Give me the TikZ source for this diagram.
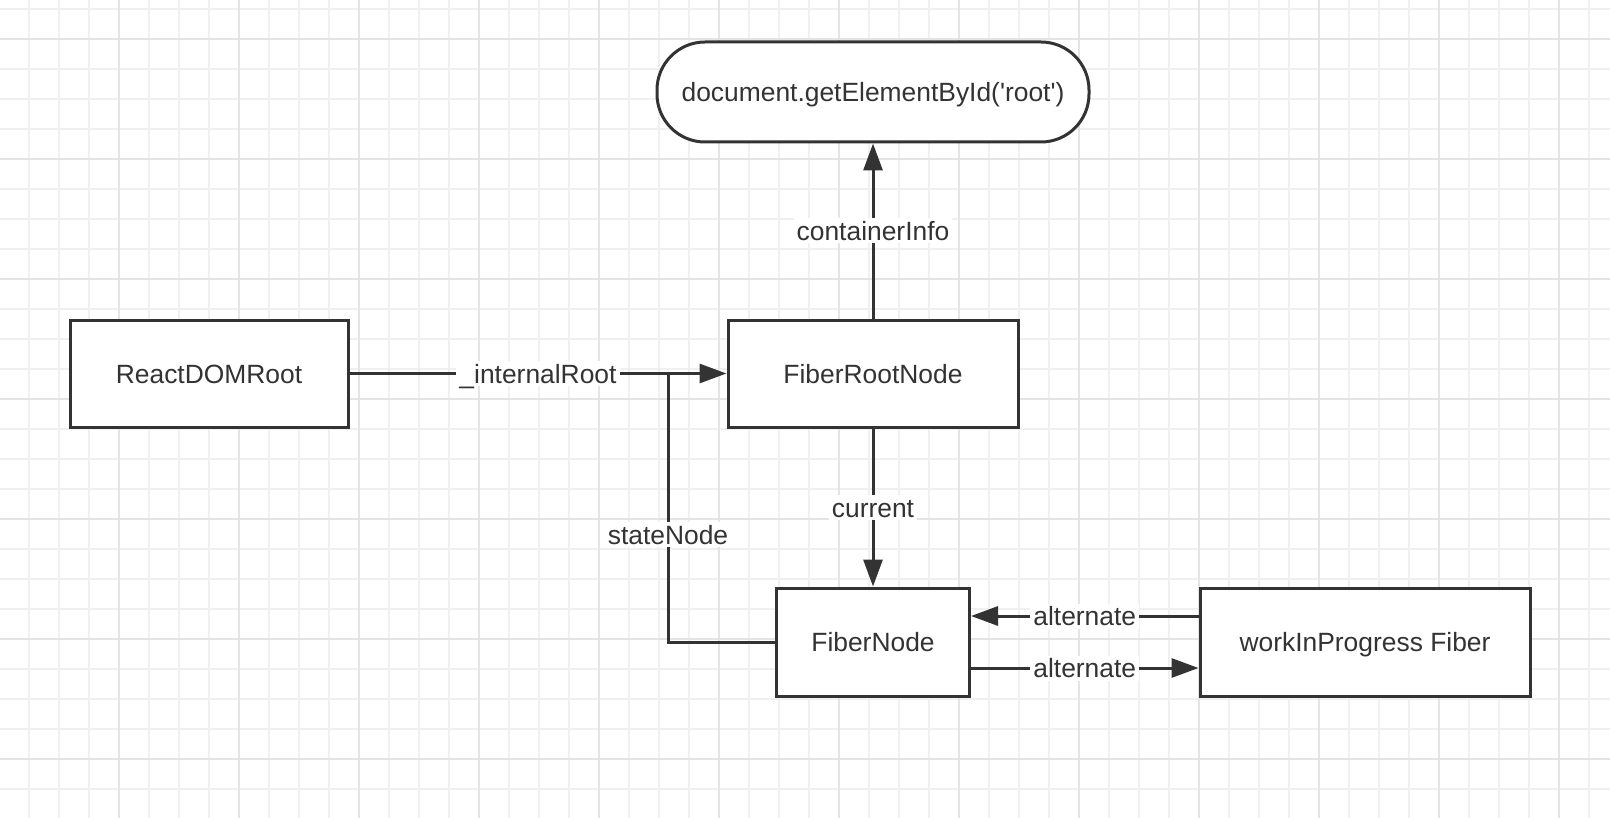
\documentclass[tikz,border=0pt]{standalone}
\usepackage{fontspec}
\setmainfont{Liberation Sans}
\usetikzlibrary{arrows.meta,calc,positioning}
\definecolor{ink}{HTML}{333333}
\definecolor{gridminor}{HTML}{F0F0F0}
\definecolor{gridmajor}{HTML}{E4E4E4}

\begin{document}
\begin{tikzpicture}[x=0.5pt,y=-0.5pt]
	\tikzstyle{every node}=[font=\fontsize{13.2}{16}\selectfont, text=ink, text height=9.5pt, text depth=0pt]
	\tikzstyle{box}=[draw=ink, line width=1.5pt, fill=white, inner sep=0pt]
	\tikzstyle{link}=[draw=ink, line width=1.5pt, -{Triangle[length=13.5pt,width=9.5pt]}]
	\tikzstyle{lbl}=[fill=white, inner sep=1.5pt]
	\useasboundingbox (0,0) rectangle (1610,818);
	\fill[white] (0,0) rectangle (1610,818);
	% grid paper
	\foreach \gx in {29,59,...,1610} \draw[gridminor, line width=1pt] (\gx,0) -- (\gx,818);
	\foreach \gy in {9,39,...,818} \draw[gridminor, line width=1pt] (0,\gy) -- (1610,\gy);
	\foreach \gx in {119,239,...,1610} \draw[gridmajor, line width=1pt] (\gx,0) -- (\gx,818);
	\foreach \gy in {39,159,...,818} \draw[gridmajor, line width=1pt] (0,\gy) -- (1610,\gy);
	% boxes
	\node[box, rounded corners=24pt, minimum width=216pt, minimum height=50pt] (docroot) at (873,92) {document.getElementById(\textquotesingle root\textquotesingle)};
	\node[box, minimum width=139pt, minimum height=53.5pt] (reactroot) at (209,373.5) {ReactDOMRoot};
	\node[box, minimum width=145pt, minimum height=53.5pt] (fiberroot) at (873,373.5) {FiberRootNode};
	\node[box, minimum width=96.5pt, minimum height=54pt] (fibernode) at (873,642) {FiberNode};
	\node[box, minimum width=165pt, minimum height=54pt] (wipfiber) at (1365,642) {workInProgress Fiber};
	\coordinate (joint) at (668,373.5);
	% links
	\draw[link] (reactroot) -- node[lbl] {\_internalRoot} (fiberroot);
	\draw[link] (fiberroot) -- node[lbl] {containerInfo} (docroot);
	\draw[link] (fiberroot) -- node[lbl] {current} (fibernode);
	\draw[draw=ink, line width=1.5pt] (fibernode.west) -| node[lbl, pos=0.7] {stateNode} (joint);
	\draw[link] ([yshift=13pt]wipfiber.west) -- node[lbl] {alternate} ([yshift=13pt]fibernode.east);
	\draw[link] ([yshift=-13pt]fibernode.east) -- node[lbl] {alternate} ([yshift=-13pt]wipfiber.west);
\end{tikzpicture}
\end{document}
